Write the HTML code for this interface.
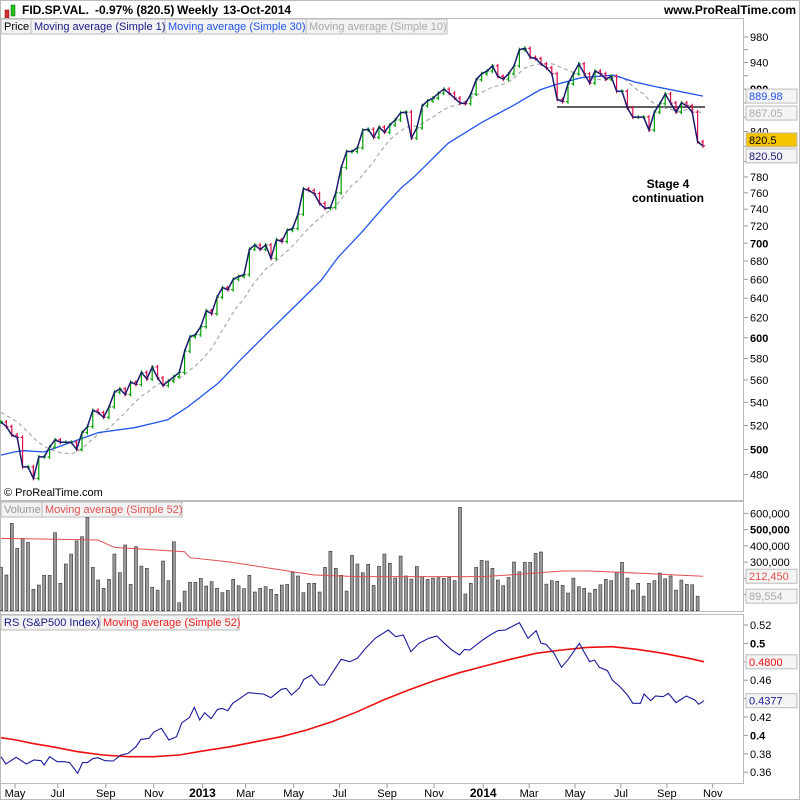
<!DOCTYPE html>
<html><head><meta charset="utf-8"><style>
body{margin:0;background:#fff;}
svg{display:block;font-family:"Liberation Sans",sans-serif;}
</style></head><body>
<svg id="chart" width="800" height="800" viewBox="0 0 800 800">
<rect x="0.5" y="0.5" width="799" height="799" fill="#fff" stroke="#bbb"/>
<g>
<rect x="5" y="10" width="4" height="8" fill="#d03030" stroke="#800" stroke-width="0.5"/>
<rect x="11" y="5" width="4" height="11" fill="#20c020" stroke="#060" stroke-width="0.5"/>
<text y="14" font-size="12" font-weight="bold"><tspan x="22">FID.SP.VAL.</tspan><tspan x="95">-0.97% (820.5)</tspan><tspan x="177">Weekly</tspan><tspan x="223">13-Oct-2014</tspan></text>
<text x="796" y="14" font-size="12" font-weight="bold" text-anchor="end">www.ProRealTime.com</text>
</g>
<rect x="0.5" y="18.5" width="743" height="482" fill="none" stroke="#bbb"/>
<rect x="0.5" y="501.5" width="743" height="110" fill="none" stroke="#bbb"/>
<rect x="0.5" y="614.5" width="743" height="169" fill="none" stroke="#bbb"/>
<g font-size="11">
<rect x="1" y="19" width="446" height="15" fill="#f2f2f2" stroke="#bbb"/>
<text x="4" y="30" fill="#000">Price</text><line x1="31" y1="19" x2="31" y2="34" stroke="#bbb"/>
<text x="34" y="30" fill="#1a1a8a">Moving average (Simple 1)</text><line x1="165" y1="19" x2="165" y2="34" stroke="#bbb"/>
<text x="168" y="30" fill="#2255ee">Moving average (Simple 30)</text><line x1="306" y1="19" x2="306" y2="34" stroke="#bbb"/>
<text x="309" y="30" fill="#aaa">Moving average (Simple 10)</text>
</g>
<g font-size="11">
<rect x="1" y="502" width="181" height="15" fill="#f2f2f2" stroke="#bbb"/>
<text x="4" y="513" fill="#999">Volume</text><line x1="42" y1="502" x2="42" y2="517" stroke="#bbb"/>
<text x="45" y="513" fill="#e05050">Moving average (Simple 52)</text>
</g>
<g font-size="11">
<rect x="1" y="615" width="238" height="15" fill="#f2f2f2" stroke="#bbb"/>
<text x="4" y="626" fill="#1a1a8a">RS (S&amp;P500 Index)</text><line x1="100" y1="615" x2="100" y2="630" stroke="#bbb"/>
<text x="103" y="626" fill="#ee2020">Moving average (Simple 52)</text>
</g>
<text x="4" y="496" font-size="11">© ProRealTime.com</text>
<line x1="557" y1="107" x2="705" y2="107" stroke="#000" stroke-width="1.3"/>
<text x="668" y="188" font-size="12" font-weight="bold" text-anchor="middle">Stage 4</text>
<text x="668" y="202" font-size="12" font-weight="bold" text-anchor="middle">continuation</text>
<g id="marks"></g>
</svg>
<script>
const priorCloses=[545,540,536,532,528,526,530,527,525];
const closes=[523,519,512,510,486,486,477,494,494,502,
508,506,506,506,500,514,519,533,531,527,
536,549,552,547,558,556,567,561,572,562,
555,559,563,567,587,601,603,611,627,624,
641,651,649,660,663,665,693,698,693,698,
683,704,702,715,717,734,765,763,759,747,
741,742,760,792,813,813,818,842,843,832,
846,839,849,856,866,
867,831,845,876,883,887,894,900,894,887,
880,879,893,914,923,927,935,919,915,923,
935,960,962,948,946,938,932,923,885,882,
908,923,938,923,909,927,923,915,919,897,
897,873,860,860,860,842,867,879,893,880,
867,880,876,867,826,820.5];
const sma30Weeks=[0,2.4,4.3,8,12.4,18,24.6,28.3,30.9,34.6,40.2,44.4,49.4,54.3,59.3,62.4,66.7,70.9,74.1,76.5,82.8,88.9,95,99.8,102.4,107.4,113.5,117.2,121.7,130];
const sma30Values=[495.5,498,499,498,505,514,518,522,525,536,557,579,605,631,659,684,712,743,766,780,824,852,877,899,906,917,921,911,903,889.98];
const volumes=[267,220,538,384,446,421,132,158,218,218,
481,169,288,349,430,456,575,267,189,138,
193,349,234,405,162,395,275,261,144,127,
306,185,425,49,121,175,175,199,152,179,
138,111,125,193,154,136,218,115,138,148,
132,101,158,162,236,214,111,169,169,115,
267,366,261,218,121,341,288,234,286,156,
273,349,292,201,337,214,195,273,210,193,
201,203,199,205,185,637,103,169,267,310,
306,261,189,154,205,300,240,298,298,353,
362,164,185,181,156,109,201,148,138,109,
132,160,193,185,238,298,201,127,169,90,
169,185,232,197,214,127,189,162,160,89.554];
const volMaWeeks=[0,10,18,21,34,35,42,50,58,66,70,89,94,104,109,119,125,130];
const volMaValues=[446,440,436,390,364,327,302,261,220,210,210,210,220,245,245,230,220,212.45];
const rsWeeks=[0,0.9,2.8,4.7,6.1,7.4,8.0,9.0,10.4,11.8,12.7,14.2,15.1,16.0,17.0,17.9,19.3,20.8,22.2,23.6,25.0,25.9,27.4,28.3,29.7,31.1,32.5,33.5,34.9,35.8,36.8,37.7,38.9,40.1,41.0,42.0,42.9,44.3,45.8,47.2,48.6,50.0,51.9,52.8,53.8,55.2,56.1,57.5,59.0,59.9,61.3,63.0,64.6,66.0,67.5,69.3,71.7,73.1,74.5,75.9,77.4,79.2,80.7,82.1,83.5,84.9,85.8,86.8,89.2,90.6,92.0,93.4,94.8,96.0,97.6,99.1,100.0,100.9,102.4,103.8,105.2,107.1,109.0,109.9,110.8,112.3,113.2,114.6,116.0,117.0,118.4,119.1,120.3,121.2,122.6,123.6,125.0,126.9,128.5,129.2,130.2];
const rsValues=[.3769,.3689,.3762,.3689,.3733,.3725,.3678,.3769,.3714,.3714,.3704,.3588,.3704,.3704,.3747,.3758,.3725,.3722,.3787,.3805,.3877,.3957,.3968,.4037,.4077,.3950,.3986,.4138,.4196,.4305,.4167,.4247,.4182,.4283,.4294,.4269,.4349,.4403,.4465,.4457,.4450,.4410,.4501,.4512,.4439,.4512,.4609,.4656,.4548,.4548,.4675,.4827,.4801,.4838,.4946,.5055,.5146,.5073,.5091,.4910,.5001,.5055,.5080,.5001,.4928,.4874,.4935,.4928,.5037,.5091,.5138,.5146,.5189,.5225,.5055,.5138,.5001,.4990,.4892,.4740,.4838,.5001,.4801,.4819,.4740,.4704,.4602,.4530,.4439,.4349,.4349,.4450,.4378,.4428,.4421,.4457,.4356,.4428,.4385,.4338,.4377];
const rsMaWeeks=[0,2.8,5.7,9.4,14.2,18.9,23.6,28.3,33.0,37.7,42.5,47.2,51.9,56.6,61.3,66.0,70.8,75.5,80.2,84.9,89.6,94.3,99.1,103.8,108.5,113.2,117.9,122.6,127.4,130.2];
const rsMaValues=[.3975,.3950,.3914,.3877,.3823,.3787,.3769,.3769,.3787,.3834,.3877,.3932,.3986,.4059,.4149,.4258,.4385,.4493,.4595,.4682,.4754,.4827,.4892,.4928,.4957,.4964,.4935,.4892,.4838,.4800];
const priceTicks=[980,960,940,920,900,880,860,840,820,800,780,760,740,720,700,680,660,640,620,600,580,560,540,520,500,480];
const priceTickLabels=[980,940,900,840,780,760,740,720,700,680,660,640,620,600,580,560,540,520,500,480];
const boldPrices=[900,800,700,600,500];
const volTicks=[600,500,400,300,200,100];
const rsTicks=[0.52,0.5,0.48,0.46,0.44,0.42,0.4,0.38,0.36];
const monthLabels=["May","Jul","Sep","Nov","2013","Mar","May","Jul","Sep","Nov","2014","Mar","May","Jul","Sep","Nov"];
const monthWeeks=[2.6,10.5,19.4,28.3,37.3,45.3,54.2,62.7,71.5,80.2,89.3,97.8,106.3,114.8,123.3,131.8];

const NS="http://www.w3.org/2000/svg";
const xW=w=>1+5.4*w;
const yP=p=>37+(Math.log(980)-Math.log(p))*613;
const yV=v=>610.7-v*0.1622;
const yR=v=>625+(0.52-v)*920;
const g=document.getElementById('marks');
function mk(tag,attrs,parent){const e=document.createElementNS(NS,tag);for(const k in attrs)e.setAttribute(k,attrs[k]);(parent||g).appendChild(e);return e;}
function pathOf(xs,ys){return xs.map((x,i)=>(i?'L':'M')+x.toFixed(1)+' '+ys[i].toFixed(1)).join(' ');}

priceTicks.forEach(p=>{const t=mk('line',{x1:744,x2:748,y1:yP(p),y2:yP(p),stroke:'#999'});

});
priceTickLabels.forEach(p=>{const t=mk('text',{x:750,y:yP(p)+4,'font-size':11,'font-weight':boldPrices.includes(p)?'bold':'normal'});t.textContent=p;

});

const idx=closes.map((_,i)=>xW(i));
const full=priorCloses.concat(closes);
const s10=closes.map((_,i)=>{let t=0;for(let j=i;j<i+10;j++)t+=full[j];return t/10;});
const l10=mk('path',{d:pathOf(idx,s10.map(yP)),fill:'none',stroke:'#aaa','stroke-width':1.2,'stroke-dasharray':'4 3'});


const l30=mk('path',{d:pathOf(sma30Weeks.map(xW),sma30Values.map(yP)),fill:'none',stroke:'#2255ee','stroke-width':1.3});



closes.forEach((c,i)=>{
  const o=i?closes[i-1]:c;
  const up=c>=o;const col=up?'#00a000':'#e0104d';
  const x=xW(i);const top=Math.min(yP(o),yP(c))-2,bot=Math.max(yP(o),yP(c))+2;
  const b=mk('path',{d:`M${x} ${top}V${bot}M${x-2} ${yP(o)}H${x}M${x} ${yP(c)}H${x+2}`,stroke:col,'stroke-width':1.2,fill:'none'});
  
  
});
const cl=mk('path',{d:pathOf(idx,closes.map(yP)),fill:'none',stroke:'#1a1a6e','stroke-width':1.5});



function vbox(y,txt,col,bg,name){const r=mk('rect',{x:746,y:y-7,width:51,height:14,fill:bg,stroke:'#bbb'});


const t=mk('text',{x:749,y:y+4,'font-size':11,fill:col});t.textContent=txt;

}
vbox(yP(889.98),'889.98','#2255ee','#f4f4f4','sma30-value');
vbox(yP(867.05)+1,'867.05','#aaa','#f4f4f4','sma10-value');
vbox(yP(820.5)-6,'820.5','#000','#f5c400','last-price');
vbox(yP(820.5)+10,'820.50','#1a1a6e','#f4f4f4','close-value');

volTicks.forEach(v=>{const t=mk('line',{x1:744,x2:748,y1:yV(v),y2:yV(v),stroke:'#999'});


if(v>=300){const l=mk('text',{x:750,y:yV(v)+4,'font-size':11,'font-weight':v===500?'bold':'normal'});l.textContent=(v*1000).toLocaleString('en-US');

}});
volumes.forEach((v,i)=>{const r=mk('rect',{x:xW(i)-1.5,y:yV(v),width:3,height:610.7-yV(v),fill:'#999',stroke:'#333','stroke-width':0.6});

});
const vm=mk('path',{d:pathOf(volMaWeeks.map(xW),volMaValues.map(yV)),fill:'none',stroke:'#e05050','stroke-width':1});


vbox(yV(212.45),'212,450','#e05050','#f4f4f4','volume-ma-value');
vbox(yV(89.554),'89,554','#aaa','#f4f4f4','volume-value');

rsTicks.forEach(v=>{const t=mk('line',{x1:744,x2:748,y1:yR(v),y2:yR(v),stroke:'#999'});


const l=mk('text',{x:750,y:yR(v)+4,'font-size':11,'font-weight':(v===0.5||v===0.4)?'bold':'normal'});l.textContent=String(v);

});
const rm=mk('path',{d:pathOf(rsMaWeeks.map(xW),rsMaValues.map(yR)),fill:'none',stroke:'#ee1010','stroke-width':1.6});


const rl=mk('path',{d:pathOf(rsWeeks.map(xW),rsValues.map(yR)),fill:'none',stroke:'#1a1a9a','stroke-width':1.1});


vbox(yR(0.48),'0.4800','#ee1010','#f4f4f4','rs-ma-value');
vbox(yR(0.4377),'0.4377','#1a1a9a','#f4f4f4','rs-value');

monthLabels.forEach((m,i)=>{const x=xW(monthWeeks[i]);
const t=mk('line',{x1:x,x2:x,y1:784,y2:788,stroke:'#999'});


const bold=/^\d{4}$/.test(m);
const l=mk('text',{x:x,y:797,'font-size':bold?12:11,'font-weight':bold?'bold':'normal','text-anchor':'middle'});l.textContent=m;

});
</script>
</body></html>
